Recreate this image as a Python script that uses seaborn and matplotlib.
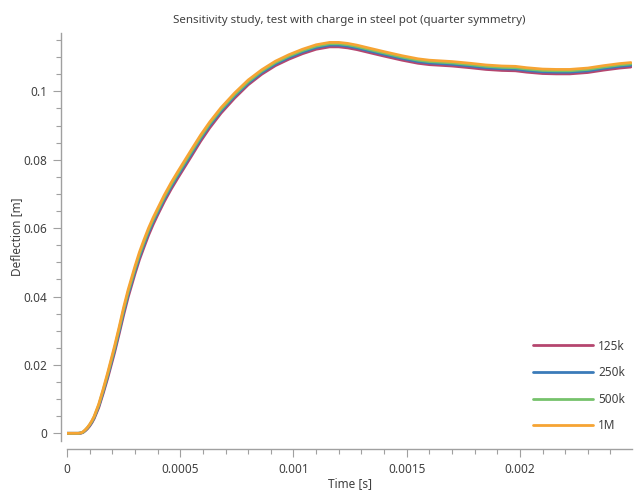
import matplotlib
matplotlib.use("Agg")
import matplotlib.pyplot as plt
from matplotlib.ticker import MultipleLocator, FuncFormatter
import seaborn as sns
import pandas as pd

time_s = [0, 0.00005, 0.00006, 0.00007, 0.00008, 0.00009, 0.0001, 0.00011, 0.00012,
          0.00014, 0.00016, 0.00018, 0.00021, 0.00023, 0.00025, 0.00027, 0.0003,
          0.00032, 0.00034, 0.00036, 0.00038, 0.0004, 0.00043, 0.00046, 0.00049,
          0.00052, 0.00055, 0.00059, 0.00063, 0.00068, 0.00074, 0.0008, 0.00086,
          0.00092, 0.00098, 0.00104, 0.0011, 0.00116, 0.0012, 0.00124, 0.00128,
          0.00133, 0.0014, 0.00148, 0.00155, 0.0016, 0.00165, 0.0017, 0.00178,
          0.00185, 0.00192, 0.00198, 0.00203, 0.0021, 0.00216, 0.00222, 0.0023,
          0.00237, 0.00244, 0.00249]

defl_1m = [0, 0, 0.0001, 0.0004, 0.0010, 0.0017, 0.0026, 0.0037, 0.0050,
           0.0085, 0.0130, 0.0178, 0.0255, 0.0310, 0.0368, 0.0420, 0.0488,
           0.0530, 0.0566, 0.0600, 0.0630, 0.0657, 0.0697, 0.0733, 0.0766,
           0.0798, 0.0830, 0.0872, 0.0910, 0.0952, 0.0995, 0.1033, 0.1063,
           0.1088, 0.1107, 0.1123, 0.1136, 0.1143, 0.1143, 0.1140, 0.1135,
           0.1127, 0.1116, 0.1104, 0.1095, 0.1091, 0.1089, 0.1087, 0.1082,
           0.1077, 0.1074, 0.1073, 0.1069, 0.1065, 0.1064, 0.1064, 0.1068,
           0.1075, 0.1081, 0.1084]
defl_500k = [0, 0, 0.0001, 0.0003, 0.0009, 0.0016, 0.0025, 0.0035, 0.0048,
             0.0082, 0.0126, 0.0173, 0.0249, 0.0304, 0.0361, 0.0413, 0.0481,
             0.0523, 0.0559, 0.0594, 0.0624, 0.0651, 0.0691, 0.0727, 0.0760,
             0.0792, 0.0824, 0.0866, 0.0905, 0.0947, 0.0990, 0.1028, 0.1059,
             0.1084, 0.1103, 0.1119, 0.1132, 0.1139, 0.1139, 0.1136, 0.1131,
             0.1123, 0.1112, 0.1100, 0.1091, 0.1087, 0.1085, 0.1083, 0.1078,
             0.1073, 0.1070, 0.1069, 0.1065, 0.1061, 0.1060, 0.1060, 0.1064,
             0.1071, 0.1077, 0.1080]
defl_250k = [0, 0, 0.0001, 0.0003, 0.0008, 0.0015, 0.0023, 0.0033, 0.0046,
             0.0079, 0.0122, 0.0168, 0.0243, 0.0297, 0.0354, 0.0406, 0.0474,
             0.0516, 0.0552, 0.0587, 0.0618, 0.0645, 0.0685, 0.0721, 0.0754,
             0.0786, 0.0818, 0.0861, 0.0900, 0.0942, 0.0986, 0.1024, 0.1055,
             0.1080, 0.1099, 0.1115, 0.1128, 0.1135, 0.1135, 0.1132, 0.1127,
             0.1119, 0.1108, 0.1096, 0.1087, 0.1083, 0.1081, 0.1079, 0.1074,
             0.1069, 0.1066, 0.1065, 0.1061, 0.1057, 0.1056, 0.1056, 0.1060,
             0.1067, 0.1073, 0.1076]
defl_125k = [0, 0, 0.0000, 0.0002, 0.0007, 0.0013, 0.0021, 0.0031, 0.0043,
             0.0075, 0.0117, 0.0162, 0.0236, 0.0290, 0.0346, 0.0398, 0.0466,
             0.0508, 0.0544, 0.0579, 0.0610, 0.0638, 0.0678, 0.0714, 0.0747,
             0.0779, 0.0811, 0.0854, 0.0893, 0.0936, 0.0980, 0.1019, 0.1050,
             0.1075, 0.1094, 0.1110, 0.1123, 0.1130, 0.1130, 0.1127, 0.1122,
             0.1114, 0.1103, 0.1091, 0.1082, 0.1078, 0.1076, 0.1074, 0.1069,
             0.1064, 0.1061, 0.1060, 0.1056, 0.1052, 0.1051, 0.1051, 0.1055,
             0.1062, 0.1068, 0.1071]

series_names = ["125k", "250k", "500k", "1M"]
series_values = [defl_125k, defl_250k, defl_500k, defl_1m]
colors = {"125k": "#b5466f", "250k": "#3b7bb9", "500k": "#76c26b", "1M": "#f6a433"}

rows = []
for name, vals in zip(series_names, series_values):
    for t, v in zip(time_s, vals):
        rows.append({"Time": t, "Deflection": v, "Mesh": name})
df = pd.DataFrame(rows)

sns.set_theme(style="ticks")
plt.rcParams["font.family"] = ["Noto Sans", "DejaVu Sans"]
text_color = "#404040"
axis_color = "#a0a0a0"

fig = plt.figure(figsize=(6.37, 4.94), dpi=100)
ax = fig.add_axes([67 / 637, (494 - 441) / 494, (632 - 67) / 637, (441 - 33) / 494])

sns.lineplot(data=df, x="Time", y="Deflection", hue="Mesh", hue_order=series_names,
             palette=colors, linewidth=2.0, ax=ax, legend=True)

ax.set_xlim(0, 0.002495)
ax.set_ylim(-0.00225, 0.11705)

ax.xaxis.set_major_locator(MultipleLocator(0.0005))
ax.xaxis.set_minor_locator(MultipleLocator(0.0001))
ax.yaxis.set_major_locator(MultipleLocator(0.02))
ax.yaxis.set_minor_locator(MultipleLocator(0.005))
fmt = FuncFormatter(lambda v, p: "0" if abs(v) < 1e-12 else ("%g" % round(v, 6)))
ax.xaxis.set_major_formatter(fmt)
ax.yaxis.set_major_formatter(fmt)

for s in ["top", "right"]:
    ax.spines[s].set_visible(False)
ax.spines["left"].set_position(("outward", 4.3))
ax.spines["bottom"].set_position(("outward", 5.8))
for s in ["left", "bottom"]:
    ax.spines[s].set_color(axis_color)
    ax.spines[s].set_linewidth(1.0)

ax.tick_params(which="major", length=6, width=0.8, color=axis_color,
               labelsize=8.5, labelcolor=text_color, pad=4)
ax.tick_params(which="minor", length=3.5, width=0.8, color=axis_color)

ax.set_xlabel("Time [s]", fontsize=8.5, color=text_color, labelpad=1)
ax.set_ylabel("Deflection [m]", fontsize=8.5, color=text_color)
ax.yaxis.set_label_coords(-0.077, 0.5)
ax.set_title("Sensitivity study, test with charge in steel pot (quarter symmetry)",
             fontsize=8.3, color=text_color, pad=7)

leg = ax.legend(loc="lower right", frameon=False, handlelength=5.1, fontsize=8.5,
                labelspacing=1.15, handletextpad=0.4, borderaxespad=0.2,
                bbox_to_anchor=(1.0, 0.004))
for txt in leg.get_texts():
    txt.set_color(text_color)

fig.savefig("out.png", dpi=100)
